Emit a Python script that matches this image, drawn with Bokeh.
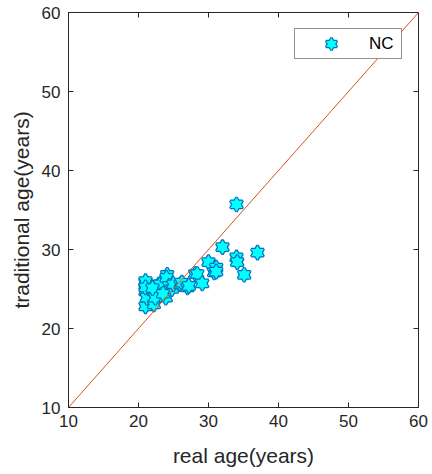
import math
from bokeh.plotting import figure
from bokeh.models import Range1d, LinearAxis, Legend, LegendItem, FixedTicker
from bokeh.embed import file_html
from bokeh.resources import INLINE

# ---- data ----
real_age = [21.0, 21.0, 21.0, 21.0, 21.2, 22.2, 22.2, 22.4, 22.9, 23.1,
            23.9, 23.9, 24.1, 24.0, 24.4, 24.8, 25.0, 26.0, 26.2, 27.0,
            27.2, 28.1, 28.4, 29.1, 30.0, 30.8, 31.1, 31.1, 32.0, 34.0,
            34.0, 34.1, 35.1, 37.0, 21.0, 22.0, 23.5]
trad_age = [25.8, 26.0, 24.7, 22.8, 23.9, 24.7, 23.05, 23.9, 25.6, 25.6,
            24.6, 23.9, 26.8, 26.4, 25.4, 25.0, 25.6, 25.6, 25.8, 25.2,
            25.4, 26.9, 26.9, 25.7, 28.4, 27.1, 27.7, 27.2, 30.3, 35.7,
            29.0, 28.4, 26.8, 29.6, 25.2, 25.1, 24.4]
limits = [10, 60]
ticks = [10, 20, 30, 40, 50, 60]
series_name = "NC"
x_label = "real age(years)"
y_label = "traditional age(years)"

FONT = "Liberation Sans"
AX = "#262626"
CYAN = "#00FFFF"
EDGE = "#0072BD"
LINE = "#D95319"
S = 12.5

p = figure(width=432, height=474, output_backend="svg", toolbar_location=None,
           x_range=Range1d(*limits), y_range=Range1d(*limits),
           min_border_left=68, min_border_right=14, min_border_top=12,
           min_border_bottom=67, x_axis_location=None, y_axis_location=None,
           background_fill_color="white", border_fill_color="white")
p.xgrid.visible = False
p.ygrid.visible = False
p.outline_line_color = AX
p.outline_line_width = 1


def style(ax):
    ax.ticker = FixedTicker(ticks=ticks)
    ax.axis_line_color = AX
    ax.axis_line_width = 1
    ax.major_tick_line_color = AX
    ax.major_tick_in = 5
    ax.major_tick_out = 0
    ax.minor_tick_line_color = None
    ax.major_label_text_font = FONT
    ax.major_label_text_color = AX
    ax.major_label_text_font_size = "17px"
    ax.major_label_standoff = 7
    ax.axis_label_text_font = FONT
    ax.axis_label_text_font_size = "21px"
    ax.axis_label_text_font_style = "normal"
    ax.axis_label_text_color = AX


bx = LinearAxis(axis_label=x_label)
style(bx)
bx.axis_label_standoff = 14
ly = LinearAxis(axis_label=y_label)
style(ly)
ly.major_label_standoff = 8
ly.axis_label_standoff = 6
p.add_layout(bx, "below")
p.add_layout(ly, "left")

# inward tick marks on the top and right box edges
p.ray(x=ticks, y=[limits[1]] * len(ticks), length=5, length_units="screen",
      angle=-math.pi / 2, line_color=AX, line_width=1)
p.ray(x=[limits[1]] * len(ticks), y=ticks, length=5, length_units="screen",
      angle=math.pi, line_color=AX, line_width=1)

legend_rs = None
for xv, yv in zip(real_age, trad_age):
    r1 = p.scatter([xv], [yv], marker="triangle", size=S, fill_color=CYAN,
                   line_color=EDGE, line_width=2.5)
    r2 = p.scatter([xv], [yv], marker="inverted_triangle", size=S,
                   fill_color=CYAN, line_color=EDGE, line_width=2.5)
    r3 = p.scatter([xv], [yv], marker="triangle", size=S, fill_color=CYAN,
                   line_color=None)
    r4 = p.scatter([xv], [yv], marker="inverted_triangle", size=S,
                   fill_color=CYAN, line_color=None)
    if legend_rs is None:
        legend_rs = [r1, r2, r3, r4]

p.line(limits, limits, line_color=LINE, line_width=1)

legend = Legend(items=[LegendItem(label=series_name, renderers=legend_rs)],
                location="top_right", margin=16, padding=1, spacing=0,
                glyph_width=70, glyph_height=27, label_height=27,
                label_width=31, label_standoff=3,
                label_text_font=FONT, label_text_font_size="17px",
                label_text_color="black", border_line_color=AX,
                border_line_width=1, background_fill_color="white",
                background_fill_alpha=1)
p.add_layout(legend)

open("out.html", "w").write(file_html(p, INLINE))
